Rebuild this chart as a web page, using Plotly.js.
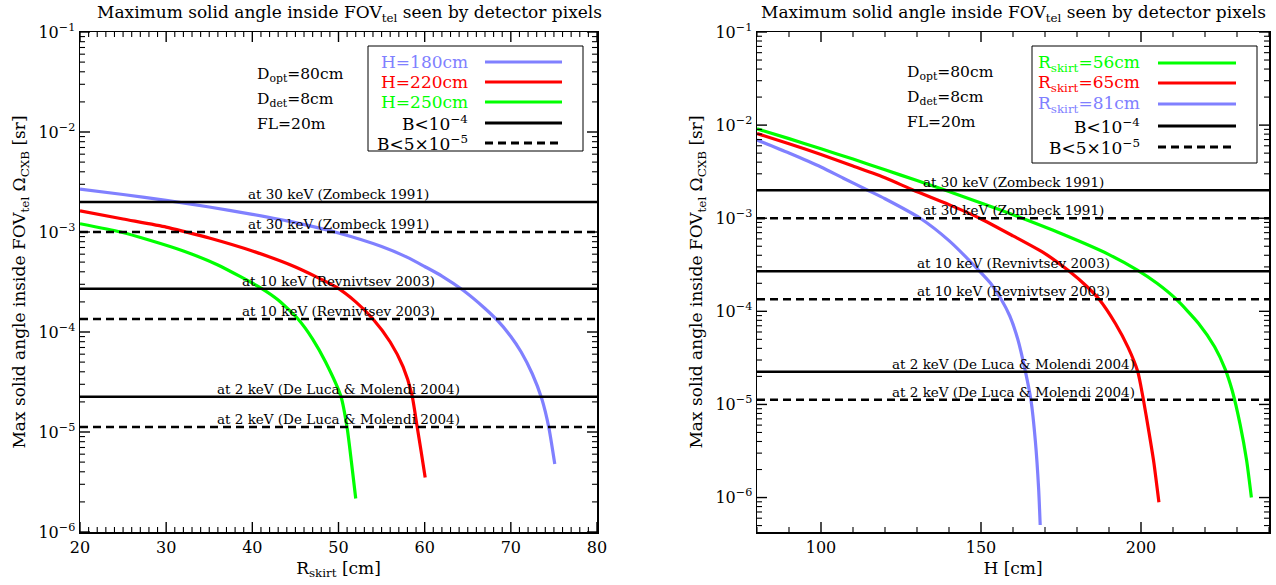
<!DOCTYPE html>
<html>
<head>
<meta charset="utf-8">
<script src="https://cdn.plot.ly/plotly-3.0.1.min.js"></script>
<style>html,body{margin:0;padding:0;background:#fff;}#chart{width:1276px;height:585px;}</style>
</head>
<body>
<div id="chart"></div>
<script>
// ---------- DATA ----------
// Left panel: solid angle vs R_skirt for three heights H
const rSkirtH180 = [20, 25, 30, 35, 40, 45, 50, 55, 58, 60, 62, 64.5, 67, 68.5, 70, 71.2, 72.5, 73.6, 74.4, 75.1];
const omegaH180  = [2.69e-3, 2.37e-3, 2.07e-3, 1.78e-3, 1.50e-3, 1.24e-3, 9.77e-4, 7.16e-4, 5.58e-4, 4.52e-4, 3.63e-4, 2.60e-4, 1.72e-4, 1.29e-4, 9.02e-5, 6.31e-5, 3.80e-5, 2.14e-5, 1.12e-5, 4.79e-6];
const rSkirtH220 = [20, 25, 30, 32.3, 35, 40, 45, 49.7, 52, 54, 56, 57.5, 58.5, 59.1, 59.6, 60.06];
const omegaH220  = [1.63e-3, 1.35e-3, 1.12e-3, 1.0e-3, 8.71e-4, 6.46e-4, 4.47e-4, 2.82e-4, 2.0e-4, 1.35e-4, 7.94e-5, 4.47e-5, 2.40e-5, 1.17e-5, 6.31e-6, 3.51e-6];
const rSkirtH250 = [20, 24.7, 28, 32, 36, 41, 43, 45.3, 47, 48.5, 50.3, 51, 51.5, 52];
const omegaH250  = [1.21e-3, 1.0e-3, 8.32e-4, 6.46e-4, 4.68e-4, 2.75e-4, 2.09e-4, 1.35e-4, 8.51e-5, 5.01e-5, 2.24e-5, 1.10e-5, 5.01e-6, 2.16e-6];

// Right panel: solid angle vs H for three skirt radii
const hR56  = [80, 90, 100, 110, 120, 130, 137.6, 150, 161.7, 175, 190, 199, 205, 211, 218, 223, 226.3, 228.5, 231, 233, 234.5];
const omegaR56 = [9.12e-3, 7.16e-3, 5.56e-3, 4.32e-3, 3.31e-3, 2.54e-3, 2.07e-3, 1.46e-3, 1.035e-3, 6.84e-4, 4.07e-4, 2.75e-4, 2.0e-4, 1.35e-4, 7.41e-5, 4.17e-5, 2.40e-5, 1.41e-5, 6.03e-6, 2.51e-6, 1.0e-6];
const hR65  = [80, 90, 100, 110, 120, 128.9, 140, 149.6, 160, 170, 177.6, 183, 186.9, 192, 196, 199, 200.6, 202.5, 204, 205.6];
const omegaR65 = [8.13e-3, 6.31e-3, 4.84e-3, 3.63e-3, 2.72e-3, 2.0e-3, 1.40e-3, 1.0e-3, 6.46e-4, 4.17e-4, 2.69e-4, 1.86e-4, 1.35e-4, 7.41e-5, 4.07e-5, 2.24e-5, 1.20e-5, 5.01e-6, 2.40e-6, 8.91e-7];
const hR81  = [80, 90, 100, 107, 114.6, 120, 131, 140, 149.6, 153, 156.3, 159, 161.5, 163.9, 165.6, 167, 168, 168.5];
const omegaR81 = [6.92e-3, 5.01e-3, 3.55e-3, 2.69e-3, 2.0e-3, 1.62e-3, 1.0e-3, 5.75e-4, 2.69e-4, 2.0e-4, 1.35e-4, 8.91e-5, 5.01e-5, 2.24e-5, 1.12e-5, 3.98e-6, 1.26e-6, 5.07e-7];

// Background requirement levels
const levelSolid  = [2.0e-3, 2.7e-4, 2.25e-5];   // B < 1e-4
const levelDashed = [1.0e-3, 1.35e-4, 1.12e-5];  // B < 5e-5
const levelLabels = ['at 30 keV (Zombeck 1991)', 'at 10 keV (Revnivtsev 2003)', 'at 2 keV (De Luca &amp; Molendi 2004)'];

const leftXRange  = [20, 80];
const rightXRange = [80, 240];
const leftYRange  = [-6, -1];      // log10
const rightYRange = [-6.37, -1];   // log10

const yTickVals = [1e-6, 1e-5, 1e-4, 1e-3, 1e-2, 1e-1];
const yTickText = ['10<sup>−6</sup>', '10<sup>−5</sup>', '10<sup>−4</sup>', '10<sup>−3</sup>', '10<sup>−2</sup>', '10<sup>−1</sup>'];

const leftLegend  = ['H=180cm', 'H=220cm', 'H=250cm'];
const rightLegend = ['R<sub>skirt</sub>=56cm', 'R<sub>skirt</sub>=65cm', 'R<sub>skirt</sub>=81cm'];
const infoLines = ['D<sub>opt</sub>=80cm', 'D<sub>det</sub>=8cm', 'FL=20m'];

// ---------- STYLE / LAYOUT ----------
const BLUE = '#8080ff', RED = '#ff0000', GREEN = '#00ff00';
const FONT = 'DejaVu Serif';
const W = 1276, H = 585, ML = 80, MR = 7, MT = 32, MB = 53;
const PLOT_H = H - MT - MB;
const px = x => (x - ML) / (W - ML - MR);
const py = y => (H - MB - y) / PLOT_H;
const LEFT_PX = [80, 597], RIGHT_PX = [757, W - MR];

const traces = [];
function curve(x, y, color, xa, ya) {
  traces.push({x: x, y: y, xaxis: xa, yaxis: ya, mode: 'lines', line: {color: color, width: 3.2, shape: 'spline', smoothing: 0.6}, hoverinfo: 'skip', showlegend: false});
}
curve(rSkirtH180, omegaH180, BLUE, 'x', 'y');
curve(rSkirtH220, omegaH220, RED, 'x', 'y');
curve(rSkirtH250, omegaH250, GREEN, 'x', 'y');
curve(hR56, omegaR56, GREEN, 'x2', 'y2');
curve(hR65, omegaR65, RED, 'x2', 'y2');
curve(hR81, omegaR81, BLUE, 'x2', 'y2');

const annotations = [];
function levels(xr, xa, ya) {
  const mid = (xr[0] + xr[1]) / 2;
  for (let i = 0; i < levelSolid.length; i++) {
    traces.push({x: xr, y: [levelSolid[i], levelSolid[i]], xaxis: xa, yaxis: ya, mode: 'lines', line: {color: '#000', width: 2.5}, hoverinfo: 'skip', showlegend: false});
    traces.push({x: xr, y: [levelDashed[i], levelDashed[i]], xaxis: xa, yaxis: ya, mode: 'lines', line: {color: '#000', width: 2.5, dash: '8px,5px'}, hoverinfo: 'skip', showlegend: false});
    [levelSolid[i], levelDashed[i]].forEach(v => {
      annotations.push({xref: xa, yref: ya, x: mid, y: Math.log10(v), text: levelLabels[i], showarrow: false, xanchor: 'center', yanchor: 'bottom', yshift: -2, font: {family: FONT, size: 13.5, color: '#000'}});
    });
  }
}
levels(leftXRange, 'x', 'y');
levels(rightXRange, 'x2', 'y2');

// Axis tick marks drawn inside on all four sides (IDL style), as thin line traces
const MAJ = 10, MIN = 5;
function tickTraces(xa, ya, xRange, yRange, xMajor, xMinor, widthPx) {
  const maj = {x: [], y: []}, mnr = {x: [], y: []};
  const ySpan = yRange[1] - yRange[0], xSpan = xRange[1] - xRange[0];
  const n = Math.round(xSpan / xMinor);
  for (let k = 0; k <= n; k++) {
    const v = xRange[0] + k * xMinor;
    const isMajor = Math.abs(v / xMajor - Math.round(v / xMajor)) < 1e-6;
    const t = isMajor ? maj : mnr;
    const f = (isMajor ? MAJ : MIN) / PLOT_H * ySpan;
    t.x.push(v, v, null, v, v, null);
    t.y.push(Math.pow(10, yRange[0]), Math.pow(10, yRange[0] + f), null, Math.pow(10, yRange[1]), Math.pow(10, yRange[1] - f), null);
  }
  for (let e = Math.floor(yRange[0]); e <= Math.ceil(yRange[1]); e++) {
    for (let d = 1; d <= 9; d++) {
      const lv = e + Math.log10(d);
      if (lv < yRange[0] - 1e-9 || lv > yRange[1] + 1e-9) continue;
      const isMajor = d === 1;
      const t = isMajor ? maj : mnr;
      const f = (isMajor ? MAJ : MIN) / widthPx * xSpan;
      const v = Math.pow(10, lv);
      t.x.push(xRange[0], xRange[0] + f, null, xRange[1], xRange[1] - f, null);
      t.y.push(v, v, null, v, v, null);
    }
  }
  traces.push({x: maj.x, y: maj.y, xaxis: xa, yaxis: ya, mode: 'lines', connectgaps: false, line: {color: '#000', width: 1.4}, hoverinfo: 'skip', showlegend: false});
  traces.push({x: mnr.x, y: mnr.y, xaxis: xa, yaxis: ya, mode: 'lines', connectgaps: false, line: {color: '#000', width: 1.1}, hoverinfo: 'skip', showlegend: false});
}
tickTraces('x', 'y', leftXRange, leftYRange, 10, 1, LEFT_PX[1] - LEFT_PX[0]);
tickTraces('x2', 'y2', rightXRange, rightYRange, 50, 10, RIGHT_PX[1] - RIGHT_PX[0]);

// Panel titles
const titleText = 'Maximum solid angle inside FOV<sub>tel</sub> seen by detector pixels';
annotations.push({xref: 'paper', yref: 'paper', x: px(349), y: py(14), text: titleText, showarrow: false, xanchor: 'center', yanchor: 'middle', font: {family: FONT, size: 17, color: '#000'}});
annotations.push({xref: 'paper', yref: 'paper', x: px(1013), y: py(14), text: titleText, showarrow: false, xanchor: 'center', yanchor: 'middle', font: {family: FONT, size: 17, color: '#000'}});

// Info text
function info(x0, ys) {
  infoLines.forEach((t, i) => annotations.push({xref: 'paper', yref: 'paper', x: px(x0), y: py(ys[i]), text: t, showarrow: false, xanchor: 'left', yanchor: 'middle', font: {family: FONT, size: 15.5, color: '#000'}}));
}
info(255, [75, 100, 124]);
info(905, [73, 98, 122]);

// Custom legends
const shapes = [];
function legend(box, labels, colors, textRight, lineX, rows) {
  shapes.push({type: 'rect', xref: 'paper', yref: 'paper', x0: px(box[0]), x1: px(box[2]), y0: py(box[1]), y1: py(box[3]), line: {color: '#000', width: 1}, fillcolor: 'rgba(0,0,0,0)'});
  const texts = labels.concat(['B&lt;10<sup>−4</sup>', 'B&lt;5×10<sup>−5</sup>']);
  const cols = colors.concat(['#000', '#000']);
  texts.forEach((t, i) => {
    annotations.push({xref: 'paper', yref: 'paper', x: px(textRight), y: py(rows[i]), text: t, showarrow: false, xanchor: 'right', yanchor: 'middle', font: {family: FONT, size: 17, color: cols[i]}});
    shapes.push({type: 'line', xref: 'paper', yref: 'paper', x0: px(lineX[0]), x1: px(lineX[1]), y0: py(rows[i]), y1: py(rows[i]), line: {color: cols[i], width: 3, dash: i === 4 ? '8px,5px' : 'solid'}});
  });
}
legend([368, 46, 583, 151], leftLegend, [BLUE, RED, GREEN], 470, [485, 562], [62, 82, 102, 123, 143]);
legend([1032, 46, 1257, 163], rightLegend, [GREEN, RED, BLUE], 1142, [1158, 1236], [63, 83, 104, 126, 147]);

const tickFont = {family: FONT, size: 16, color: '#000'};
function xAxis(domain, range, dtick, title, anchor) {
  return {domain: domain, range: range, anchor: anchor, showline: true, mirror: true, linecolor: '#000', linewidth: 1.5,
    ticks: '', tickmode: 'linear', tick0: 0, dtick: dtick,
    showgrid: false, zeroline: false, tickfont: tickFont, automargin: false,
    title: {text: title, font: {family: FONT, size: 17, color: '#000'}, standoff: 6}};
}
function yAxis(domain, range, anchor) {
  return {domain: domain, type: 'log', range: range, anchor: anchor, showline: true, mirror: true, linecolor: '#000', linewidth: 1.5,
    ticks: '', tickmode: 'array', tickvals: yTickVals, ticktext: yTickText,
    showgrid: false, zeroline: false, tickfont: tickFont, automargin: false,
    title: {text: 'Max solid angle inside FOV<sub>tel</sub> Ω<sub>CXB</sub> [sr]', font: {family: FONT, size: 17, color: '#000'}, standoff: 8}};
}

const layout = {
  width: W, height: H, margin: {l: ML, r: MR, t: MT, b: MB},
  paper_bgcolor: '#fff', plot_bgcolor: '#fff', showlegend: false,
  xaxis: xAxis([0, px(LEFT_PX[1])], leftXRange, 10, 'R<sub>skirt</sub> [cm]', 'y'),
  yaxis: yAxis([0, 1], leftYRange, 'x'),
  xaxis2: xAxis([px(RIGHT_PX[0]), 1], rightXRange, 50, 'H [cm]', 'y2'),
  yaxis2: yAxis([0, 1], rightYRange, 'x2'),
  annotations: annotations, shapes: shapes
};

Plotly.newPlot('chart', traces, layout, {staticPlot: true, displayModeBar: false});
</script>
</body>
</html>
